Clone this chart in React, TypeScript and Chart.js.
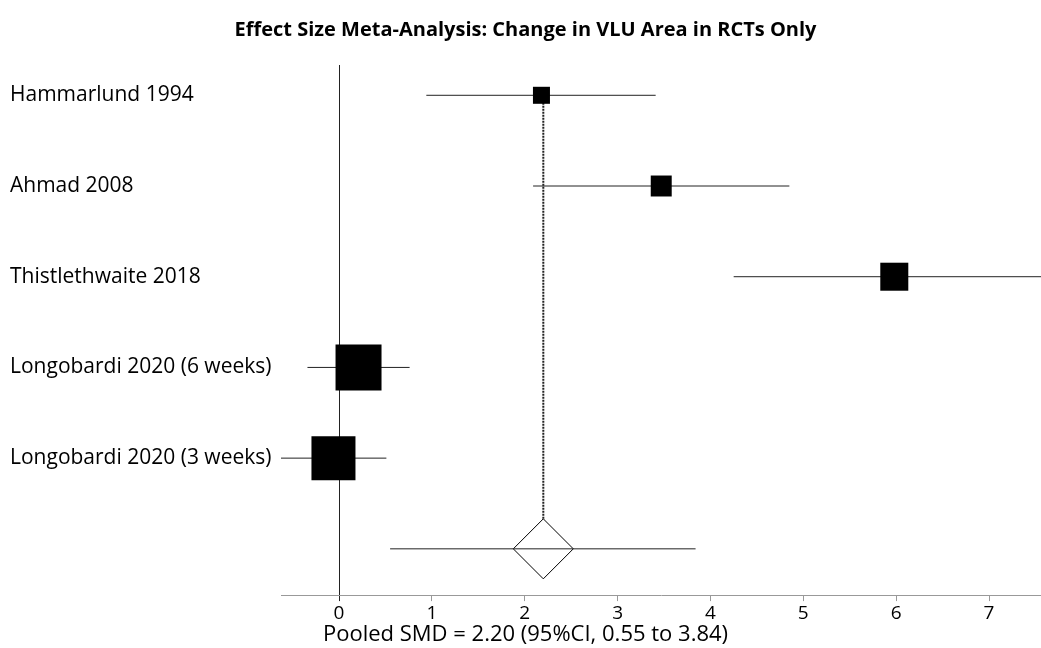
import React, { useEffect, useRef } from 'react';
import { Chart, registerables } from 'chart.js';

Chart.register(...registerables);

// ---- data ----
const STUDIES = [
  'Hammarlund 1994',
  'Ahmad 2008',
  'Thistlethwaite 2018',
  'Longobardi 2020 (6 weeks)',
  'Longobardi 2020 (3 weeks)',
];
const SMD = [2.18, 3.47, 5.98, 0.21, -0.06];
const CI_LOW = [0.94, 2.09, 4.25, -0.34, -0.63];
const CI_HIGH = [3.41, 4.85, 7.71, 0.76, 0.51];
const WEIGHTS = [5.2, 7.9, 14.1, 38.0, 34.8];
const POOLED = 2.2;
const POOLED_LOW = 0.55;
const POOLED_HIGH = 3.84;
const X_TICKS = [0, 1, 2, 3, 4, 5, 6, 7];
const X_MIN = -0.625;
const X_MAX = 7.56;
const TITLE = 'Effect Size Meta-Analysis: Change in VLU Area in RCTs Only';
const X_TITLE = `Pooled SMD = ${POOLED.toFixed(2)} (95%CI, ${POOLED_LOW.toFixed(2)} to ${POOLED_HIGH.toFixed(2)})`;

const FONT = '"Open Sans", Lato, sans-serif';
const rowOf = (i: number) => STUDIES.length - i;
const POOLED_ROW = 0;
const Y_MIN = -0.51;
const Y_MAX = STUDIES.length + 0.334;
const SQUARE_SCALE = 5.275;

export default function App() {
  const ref = useRef<HTMLCanvasElement | null>(null);

  useEffect(() => {
    if (!ref.current) return;
    const ciSets = STUDIES.map((name, i) => ({
      label: name + ' CI',
      data: [
        { x: CI_LOW[i], y: rowOf(i) },
        { x: CI_HIGH[i], y: rowOf(i) },
      ],
      showLine: true,
      borderColor: '#222',
      borderWidth: 1,
      pointRadius: 0,
      order: 1,
    }));
    const pooledCi = {
      label: 'Pooled CI',
      data: [
        { x: POOLED_LOW, y: POOLED_ROW },
        { x: POOLED_HIGH, y: POOLED_ROW },
      ],
      showLine: true,
      borderColor: '#222',
      borderWidth: 1,
      pointRadius: 0,
      order: 1,
    };
    const squares = {
      label: 'Studies',
      data: STUDIES.map((_, i) => ({ x: SMD[i], y: rowOf(i) })),
      pointStyle: 'rect',
      pointRadius: WEIGHTS.map((w) => SQUARE_SCALE * Math.sqrt(w)),
      backgroundColor: '#000',
      borderColor: '#000',
      borderWidth: 0,
      showLine: false,
      order: 0,
    };
    const diamond = {
      label: 'Pooled',
      data: [{ x: POOLED, y: POOLED_ROW }],
      pointStyle: 'rectRot',
      pointRadius: 30,
      backgroundColor: '#fff',
      borderColor: '#000',
      borderWidth: 1,
      showLine: false,
      order: 2,
    };
    const pooledLine = {
      label: 'Pooled line',
      data: [
        { x: POOLED, y: POOLED_ROW },
        { x: POOLED, y: rowOf(0) },
      ],
      showLine: true,
      borderColor: '#222',
      borderWidth: 2,
      borderDash: [2, 1],
      pointRadius: 0,
      order: 3,
    };

    const chart = new Chart(ref.current, {
      type: 'scatter',
      data: { datasets: [squares, ...ciSets, pooledCi, diamond, pooledLine] as any },
      options: {
        responsive: false,
        animation: false,
        events: [],
        layout: { autoPadding: false, padding: { left: 10, right: 0, top: 0, bottom: 0 } },
        plugins: {
          legend: { display: false },
          tooltip: { enabled: false },
          title: {
            display: true,
            text: TITLE,
            color: '#000',
            font: { family: FONT, size: 20, weight: 'bold' },
            padding: { top: 18, bottom: 23 },
          },
          subtitle: {
            display: true,
            position: 'bottom',
            text: X_TITLE,
            color: '#000',
            font: { family: FONT, size: 22 },
            padding: { top: 0, bottom: 0 },
          },
        },
        scales: {
          x: {
            type: 'linear',
            min: X_MIN,
            max: X_MAX,
            afterBuildTicks: (s: any) => {
              s.ticks = X_TICKS.map((v) => ({ value: v }));
            },
            afterFit: (s: any) => {
              s.height = 26.5;
            },
            grid: {
              drawOnChartArea: true,
              color: (c: any) => (c.tick && c.tick.value === 0 ? '#222' : 'rgba(0,0,0,0)'),
              tickColor: (c: any) => (c.tick && c.tick.value === 0 ? '#222' : '#999'),
              tickLength: 6,
              lineWidth: 1,
            },
            border: { display: true, color: '#999', width: 1 },
            ticks: {
              font: { family: FONT, size: 19 },
              color: '#000',
              padding: 1,
              maxRotation: 0,
            },
          },
          y: {
            type: 'linear',
            min: Y_MIN,
            max: Y_MAX,
            afterBuildTicks: (s: any) => {
              s.ticks = STUDIES.map((_, i) => ({ value: rowOf(i) }));
            },
            afterFit: (s: any) => {
              s.width = 271;
            },
            grid: { display: false, drawTicks: false },
            border: { display: false },
            ticks: {
              crossAlign: 'far',
              padding: 0,
              color: '#000',
              font: { family: FONT, size: 21 },
              callback: (v: any) => {
                const i = STUDIES.length - Number(v);
                return STUDIES[i] ?? '';
              },
            },
          },
        },
      } as any,
    });
    return () => chart.destroy();
  }, []);

  return (
    <div style={{ position: 'absolute', left: 0, top: 0, width: 1041, height: 648, background: '#fff' }}>
      <canvas ref={ref} width={1041} height={648} />
    </div>
  );
}
